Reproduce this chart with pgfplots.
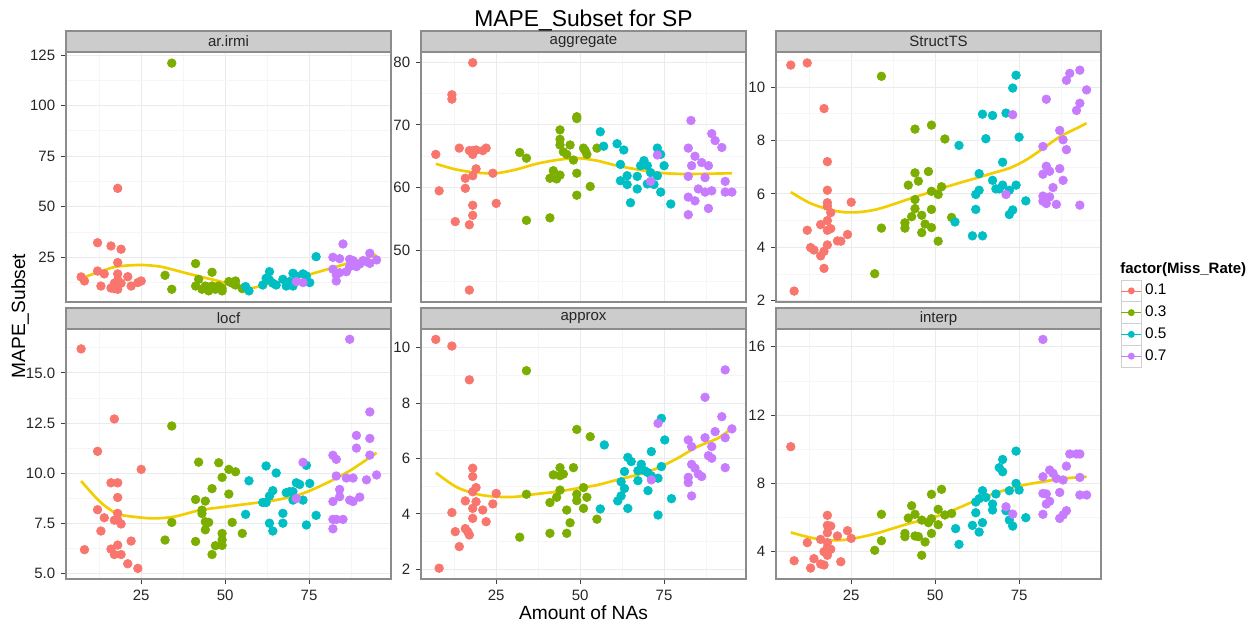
\documentclass[border=0pt]{standalone}
\usepackage{pgfplots}
\pgfplotsset{compat=1.18}
\usepackage{fontspec}
\setmainfont{Liberation Sans}
\definecolor{cA}{HTML}{F8766D}
\definecolor{cB}{HTML}{7CAE00}
\definecolor{cC}{HTML}{00BFC4}
\definecolor{cD}{HTML}{C77CFF}
\definecolor{smoothc}{HTML}{F2CD00}
\definecolor{stripfill}{HTML}{CCCCCC}
\definecolor{framec}{HTML}{8C8C8C}
\definecolor{gridmaj}{HTML}{EBEBEB}
\definecolor{gridmin}{HTML}{F6F6F6}
\definecolor{keyc}{HTML}{D0D0D0}
\pgfplotsset{
  facet/.style={
    scale only axis, width=195pt, height=150pt, anchor=south west,
    xmin=2.6, xmax=99.4,
    xtick={25,50,75}, minor xtick={12.5,37.5,62.5,87.5},
    grid=both,
    major grid style={draw=gridmaj, line width=0.6pt},
    minor grid style={draw=gridmin, line width=0.5pt},
    axis line style={draw=framec, line width=0.7pt},
    tick align=outside, tick pos=left,
    major tick length=3pt, minor tick length=0pt,
    major tick style={draw=black!75, line width=0.6pt},
    tick label style={font=\fontsize{9}{10}\selectfont, text=black!85},
  },
  toprow/.style={xticklabels={}, xtick style={draw=none}},
  botrow/.style={xticklabels={25,50,75}},
  pts/.style={only marks, mark=*, mark size=2.6pt, mark options={draw=none}},
  smoothline/.style={no marks, smoothc, line width=1.6pt, smooth},
}
\begin{document}
\begin{tikzpicture}
\useasboundingbox (0pt,0pt) rectangle (754.2pt,-375pt);
% ---------- strips, titles ----------
\begin{scope}[x=0.6pt,y=-0.6pt]
\foreach \xl/\lab in {66/ar.irmi,421/aggregate,776/StructTS}{
  \draw[fill=stripfill,draw=framec,line width=0.7pt] (\xl,31) rectangle ++(325,21);
  \node[font=\fontsize{9}{10}\selectfont,text=black!85] at (\xl+162.5,41.5) {\lab};
}
\foreach \xl/\lab in {66/locf,421/approx,776/interp}{
  \draw[fill=stripfill,draw=framec,line width=0.7pt] (\xl,308) rectangle ++(325,21);
  \node[font=\fontsize{9}{10}\selectfont,text=black!85] at (\xl+162.5,318.5) {\lab};
}
\node[anchor=base,font=\fontsize{13.7}{16}\selectfont] at (583.5,26) {MAPE\_Subset for SP};
\node[anchor=base,font=\fontsize{11.5}{13}\selectfont] at (583.5,619) {Amount of NAs};
\node[anchor=base,rotate=90,font=\fontsize{11.5}{13}\selectfont] at (25,316) {MAPE\_Subset};
\node[anchor=west,font=\bfseries\fontsize{9}{10}\selectfont,inner sep=0pt] at (1120,270) {factor(Miss\_Rate)};
\foreach \i in {0,1,2,3}{
  \draw[draw=keyc,fill=white,line width=0.6pt] (1121,280+21.75*\i) rectangle ++(20,21.75);
}
\end{scope}
% ---------- panel 1: ar.irmi ----------
\begin{axis}[facet,toprow,at={(39.6pt,-181.2pt)},
  ymin=2.9,ymax=126.5,ytick={25,50,75,100,125},minor ytick={12.5,37.5,62.5,87.5,112.5},
  yticklabels={25,50,75,100,125}]
\addplot[pts,cA] coordinates {(7.1,15.3) (8.1,13.3) (12.0,32.2) (12.0,18.2) (13.0,10.8) (14.0,16.8) (16.0,30.6) (16.0,9.8) (17.0,9.5) (17.0,12.2) (18.0,59.1) (18.0,22.4) (18.0,16.8) (18.0,13.8) (18.0,10.8) (18.0,9.2) (19.0,29.0) (19.0,12.2) (21.0,15.4) (22.0,10.8) (24.0,12.5) (25.0,13.3)};
\addplot[pts,cB] coordinates {(32.1,16.1) (34.1,121.0) (34.1,9.2) (41.2,21.9) (41.2,10.8) (42.1,14.1) (43.1,9.2) (44.1,10.8) (45.1,8.4) (46.1,17.6) (46.1,10.8) (47.1,9.2) (48.1,10.8) (49.1,8.4) (49.1,9.7) (51.1,13.0) (52.1,12.2) (53.1,13.3) (53.1,11.3) (55.1,9.5)};
\addplot[pts,cC] coordinates {(56.1,10.5) (57.1,8.4) (61.2,11.3) (62.2,14.6) (63.2,17.9) (63.2,13.8) (64.2,12.2) (65.2,11.3) (67.2,14.1) (68.2,10.8) (69.2,13.0) (70.2,17.1) (70.2,10.8) (71.2,15.8) (73.2,16.8) (74.2,15.8) (75.2,12.5) (77.1,25.3)};
\addplot[pts,cD] coordinates {(71.2,13.0) (73.2,12.5) (82.1,25.0) (82.1,19.1) (83.1,13.3) (83.1,16.3) (84.1,24.3) (84.1,17.4) (85.1,31.6) (86.1,17.9) (87.1,24.0) (87.1,20.4) (88.1,23.4) (89.1,20.4) (90.1,21.7) (91.1,23.4) (92.1,22.9) (93.1,27.0) (93.1,22.0) (95.1,23.7)};
\addplot[smoothline] coordinates {(7.1,14.6) (12.7,17.9) (17.7,20.4) (24.7,21.2) (30.7,20.4) (36.7,17.9) (42.6,15.4) (48.6,13.0) (53.6,10.2) (57.6,9.7) (62.6,11.7) (68.6,13.8) (74.6,16.3) (80.5,19.1) (86.5,22.0) (95.1,26.2)};
\end{axis}
% ---------- panel 2: aggregate ----------
\begin{axis}[facet,toprow,at={(252.6pt,-181.2pt)},
  ymin=41.8,ymax=81.6,ytick={50,60,70,80},minor ytick={45,55,65,75},
  yticklabels={50,60,70,80}]
\addplot[pts,cA] coordinates {(7.0,65.3) (8.0,59.5) (11.8,74.8) (11.8,74.1) (12.8,54.6) (14.0,66.3) (15.8,61.5) (15.8,59.9) (17.0,65.9) (17.0,54.1) (17.0,43.7) (18.0,79.9) (18.0,65.9) (18.0,65.3) (18.0,61.9) (18.0,57.2) (18.0,55.6) (19.0,63.0) (19.0,66.0) (21.0,65.9) (22.0,66.3) (24.0,62.3) (25.0,57.5)};
\addplot[pts,cB] coordinates {(32.0,65.6) (34.0,64.7) (34.0,54.8) (41.0,61.5) (41.0,55.2) (42.0,62.7) (43.0,61.4) (44.0,62.0) (44.0,69.2) (44.0,67.7) (44.0,66.8) (45.0,65.7) (46.0,65.3) (47.0,66.8) (48.0,64.4) (49.0,71.3) (49.0,71.0) (49.0,62.3) (49.0,58.8) (51.0,66.3) (51.5,65.9) (52.0,65.3) (53.0,60.2) (55.0,66.3)};
\addplot[pts,cC] coordinates {(56.0,68.9) (57.0,66.6) (61.0,67.0) (62.0,63.7) (62.0,61.1) (63.0,66.0) (64.0,61.9) (64.0,60.5) (65.0,57.6) (67.0,61.8) (67.0,59.8) (68.0,63.5) (69.0,64.3) (70.0,63.5) (70.0,60.6) (71.0,62.4) (72.0,60.5) (73.0,66.3) (73.0,61.9) (74.0,65.3) (74.0,59.3) (75.0,63.5) (77.0,57.4)};
\addplot[pts,cD] coordinates {(71.0,61.0) (73.0,65.2) (82.2,66.3) (82.2,61.8) (82.2,58.5) (82.2,55.7) (83.0,70.7) (83.2,63.5) (84.2,65.0) (84.2,57.9) (85.2,59.8) (86.2,64.0) (87.2,61.6) (87.2,59.3) (88.2,63.5) (88.2,56.7) (89.2,68.6) (89.2,59.5) (90.2,67.5) (92.2,66.4) (93.2,61.0) (93.2,59.3) (95.2,59.3)};
\addplot[smoothline] coordinates {(7.0,63.8) (13,62.9) (19,62.4) (25,62.3) (31,62.9) (37,63.8) (43,64.4) (49,64.7) (55,64.3) (61,63.5) (67,62.9) (73,62.4) (79,62.2) (86,62.2) (95.2,62.3)};
\end{axis}
% ---------- panel 3: StructTS ----------
\begin{axis}[facet,toprow,at={(465.6pt,-181.2pt)},
  ymin=1.95,ymax=11.32,ytick={2,4,6,8,10},minor ytick={3,5,7,9,11},
  yticklabels={2,4,6,8,10},
  legend cell align=left,
  legend style={at={(1.0615,0.088)},anchor=north west,draw=none,fill=none,
    inner sep=0pt,outer sep=0pt,row sep=0pt,column sep=2pt,
    font=\fontsize{9.2}{10}\selectfont,
    nodes={inner sep=0pt,minimum height=13.05pt}},
  legend image code/.code={\path (-6pt,0pt) -- (6pt,0pt); \fill[#1,draw=none] (0pt,0pt) circle (2.1pt);}]
\addplot[pts,cA] coordinates {(7.0,10.83) (8.0,2.36) (11.9,10.91) (11.9,4.64) (12.9,3.99) (13.9,3.90) (15.9,4.85) (15.9,3.68) (16.9,9.20) (16.9,3.85) (16.9,3.21) (17.9,7.21) (17.9,6.14) (17.9,5.67) (17.9,5.54) (17.9,5.00) (17.9,4.64) (17.9,4.09) (18.9,5.30) (18.9,4.70) (20.9,4.24) (21.9,4.23) (23.9,4.48) (25.0,5.69)};
\addlegendentry{0.1}
\addplot[pts,cB] coordinates {(32.0,3.01) (34.0,10.41) (34.0,4.72) (41.0,4.92) (41.0,4.72) (42.0,6.33) (43.0,5.15) (44.0,8.43) (44.0,6.79) (44.0,5.79) (44.0,5.45) (45.0,6.48) (46.0,5.20) (46.0,4.55) (47.0,4.87) (48.0,6.84) (48.9,8.58) (48.9,6.10) (48.9,5.42) (48.9,4.74) (50.9,5.98) (50.9,4.23) (51.9,6.27) (52.9,8.06) (54.9,5.12)};
\addlegendentry{0.3}
\addplot[pts,cC] coordinates {(55.9,4.95) (57.1,7.82) (61.1,4.43) (62.1,5.42) (62.1,5.98) (63.1,6.76) (63.1,6.14) (64.1,8.99) (64.1,4.43) (65.1,8.07) (67.1,8.94) (67.1,6.51) (68.1,6.19) (69.1,6.19) (70.1,7.19) (70.1,6.33) (71.1,9.03) (72.1,6.14) (72.1,5.23) (73.1,9.97) (73.1,5.40) (74.1,10.45) (74.1,6.33) (75.0,8.13) (77.0,5.74)};
\addlegendentry{0.5}
\addplot[pts,cD] coordinates {(71.1,5.98) (73.1,8.97) (82.1,7.78) (82.1,6.74) (82.1,5.92) (82.1,5.73) (83.1,9.55) (83.1,7.04) (83.1,5.64) (84.1,6.85) (84.1,5.89) (85.1,6.24) (86.1,5.61) (87.1,8.38) (87.1,6.95) (88.1,8.03) (88.1,6.51) (89.1,10.26) (89.1,7.66) (90.1,10.52) (92.1,9.13) (93.1,10.64) (93.1,9.40) (93.1,5.58) (95.1,9.90)};
\addlegendentry{0.7}
\addplot[smoothline,forget plot] coordinates {(7.0,6.07) (12.5,5.67) (17.5,5.45) (22.5,5.32) (27.5,5.32) (32.5,5.42) (37.5,5.61) (42.4,5.82) (47.4,6.02) (52.4,6.23) (57.4,6.42) (62.4,6.60) (67.4,6.79) (72.4,6.98) (77.3,7.29) (82.3,7.72) (87.3,8.16) (92.3,8.47) (95.1,8.65)};
\end{axis}
% ---------- panel 4: locf ----------
\begin{axis}[facet,botrow,at={(39.6pt,-347.4pt)},
  ymin=4.74,ymax=17.19,ytick={5,7.5,10,12.5,15},minor ytick={6.25,8.75,11.25,13.75,16.25},
  yticklabels={5.0,7.5,10.0,12.5,15.0}]
\addplot[pts,cA] coordinates {(7.1,16.2) (8.1,6.2) (12.0,11.1) (12.0,8.19) (13.0,7.13) (14.0,7.79) (16.0,9.53) (16.0,6.23) (17.0,12.71) (17.0,5.96) (17.0,7.67) (18.0,9.53) (18.0,8.80) (18.0,8.01) (18.0,7.67) (18.0,6.43) (19.0,7.48) (19.0,5.96) (21.0,5.5) (22.0,6.63) (24.0,5.27) (25.0,10.2)};
\addplot[pts,cB] coordinates {(32.1,6.68) (34.1,12.36) (34.1,7.56) (41.2,8.70) (41.2,6.61) (42.1,10.56) (43.1,8.17) (43.1,8.0) (44.1,8.62) (44.1,7.59) (44.1,7.19) (45.1,7.56) (46.1,9.24) (46.1,5.96) (47.1,6.40) (48.1,10.53) (49.1,9.80) (49.1,7.01) (49.1,6.69) (49.1,6.41) (51.1,10.2) (51.1,8.97) (52.1,7.56) (53.1,10.08) (55.1,7.01)};
\addplot[pts,cC] coordinates {(56.1,7.96) (57.1,9.63) (61.2,8.55) (62.2,10.37) (62.2,8.55) (63.2,8.87) (63.2,7.52) (64.2,9.14) (64.2,7.13) (65.2,10.02) (67.2,8.01) (67.2,7.52) (68.2,9.04) (69.2,9.09) (70.2,8.67) (70.2,9.09) (71.2,9.53) (72.2,9.45) (73.2,8.67) (74.2,10.40) (74.2,7.43) (75.2,9.50) (77.1,7.91)};
\addplot[pts,cD] coordinates {(73.2,10.55) (71.2,8.75) (82.1,10.90) (83.1,10.70) (82.1,8.60) (82.1,7.71) (82.1,7.24) (83.1,9.87) (83.1,7.71) (84.1,9.20) (84.1,8.84) (85.1,7.71) (86.1,9.77) (87.1,16.68) (87.1,8.67) (88.1,9.77) (88.1,8.60) (89.1,11.89) (89.1,11.26) (90.1,8.82) (92.1,9.68) (93.1,13.06) (93.1,11.74) (93.1,10.91) (95.1,9.92)};
\addplot[smoothline] coordinates {(7.1,9.62) (12.7,8.59) (17.7,8.0) (22.7,7.84) (28.7,7.76) (34.7,7.84) (42.6,8.17) (50.1,8.34) (57.6,8.5) (65.1,8.67) (72.6,8.97) (80.0,9.50) (87.5,10.17) (95.1,11.03)};
\end{axis}
% ---------- panel 5: approx ----------
\begin{axis}[facet,botrow,at={(252.6pt,-347.4pt)},
  ymin=1.65,ymax=10.675,ytick={2,4,6,8,10},minor ytick={3,5,7,9},
  yticklabels={2,4,6,8,10}]
\addplot[pts,cA] coordinates {(7.0,10.30) (8.0,2.04) (11.8,10.06) (11.8,4.05) (12.8,3.36) (14.0,2.82) (15.8,4.47) (15.8,3.47) (16.5,3.36) (17.0,8.84) (17.0,3.24) (18.0,5.65) (18.0,5.35) (18.0,4.80) (18.0,4.20) (18.0,3.84) (19.0,4.95) (19.0,4.44) (21.0,4.14) (22.0,3.72) (24.0,4.36) (25.0,4.74)};
\addplot[pts,cB] coordinates {(32.0,3.16) (34.0,9.17) (34.0,4.71) (41.0,4.41) (41.0,3.30) (42.0,5.41) (43.0,4.60) (44.0,5.67) (44.0,5.38) (44.0,4.86) (45.0,5.44) (46.0,4.14) (46.0,3.30) (47.0,3.68) (48.0,5.67) (49.0,7.05) (49.0,4.71) (49.0,4.48) (51.0,4.95) (51.0,4.20) (52.0,4.60) (53.0,6.79) (55.0,3.81)};
\addplot[pts,cC] coordinates {(56.0,4.18) (57.2,6.49) (61.2,4.47) (62.2,5.16) (62.2,4.65) (63.2,5.53) (63.2,4.92) (64.2,6.04) (64.2,4.20) (65.2,5.89) (67.2,5.56) (67.2,5.20) (68.2,5.79) (69.2,5.56) (70.2,5.49) (70.2,4.84) (71.2,6.25) (71.2,5.37) (73.2,5.29) (73.2,3.96) (74.2,7.45) (74.2,5.71) (75.2,6.67) (77.2,4.55)};
\addplot[pts,cD] coordinates {(71.2,5.23) (73.2,7.27) (82.2,6.67) (82.2,5.32) (82.2,5.13) (83.2,6.43) (83.2,4.65) (83.2,5.79) (84.2,5.65) (85.2,5.44) (86.2,5.35) (87.2,8.21) (87.2,6.75) (88.2,6.10) (89.2,6.01) (89.2,6.43) (90.2,6.97) (92.2,7.51) (93.2,9.20) (93.2,6.75) (93.2,5.67) (95.2,7.07)};
\addplot[smoothline] coordinates {(7.0,5.49) (13.0,4.98) (19.0,4.72) (25.0,4.62) (31.0,4.62) (37.0,4.72) (43.0,4.80) (49.0,4.92) (55.0,5.04) (61.0,5.23) (67.0,5.41) (73.0,5.65) (79.0,6.01) (85.0,6.43) (91.0,6.73) (95.2,7.09)};
\end{axis}
% ---------- panel 6: interp ----------
\begin{axis}[facet,botrow,at={(465.6pt,-347.4pt)},
  ymin=2.40,ymax=17.04,ytick={4,8,12,16},minor ytick={6,10,14},
  yticklabels={4,8,12,16}]
\addplot[pts,cA] coordinates {(7.0,10.15) (8.0,3.47) (11.9,4.53) (12.9,3.04) (13.9,3.59) (15.9,4.72) (15.9,3.28) (16.9,3.22) (16.9,4.0) (17.9,6.13) (17.9,5.54) (17.9,5.11) (17.9,4.53) (17.9,4.25) (17.9,3.79) (18.9,5.50) (18.9,4.14) (20.9,4.92) (21.9,3.41) (23.9,5.23) (25.0,4.78)};
\addplot[pts,cB] coordinates {(32.0,4.08) (34.0,6.19) (34.0,4.64) (41.0,5.07) (41.0,4.88) (42.0,5.97) (43.0,6.69) (44.0,6.19) (44.0,4.92) (45.0,4.88) (46.0,5.85) (46.0,3.79) (47.0,4.57) (48.0,5.70) (48.9,7.36) (48.9,5.93) (48.9,5.07) (50.9,6.48) (50.9,5.58) (51.9,7.65) (52.9,6.15) (54.9,6.24)};
\addplot[pts,cC] coordinates {(56.1,5.35) (57.1,4.43) (61.1,5.54) (62.1,6.91) (62.1,6.28) (63.1,7.10) (63.1,5.15) (64.1,7.57) (64.1,5.70) (65.1,7.18) (67.1,6.79) (67.1,6.44) (68.1,7.38) (69.1,8.92) (70.1,9.40) (70.1,8.68) (71.1,6.40) (72.1,7.57) (72.1,5.85) (73.1,5.50) (74.1,9.89) (74.1,8.00) (75.0,7.61) (77.0,5.99)};
\addplot[pts,cD] coordinates {(71.1,6.63) (73.1,6.20) (82.1,16.43) (82.1,8.39) (82.1,7.41) (82.1,6.19) (83.1,7.38) (83.1,6.79) (84.1,8.78) (84.1,6.95) (85.1,8.59) (86.1,8.29) (87.1,7.47) (87.1,5.95) (88.1,8.20) (88.1,6.15) (89.1,9.01) (89.1,6.40) (90.1,9.72) (92.1,9.72) (93.1,9.72) (93.1,8.35) (93.1,7.32) (95.1,7.32)};
\addplot[smoothline] coordinates {(7.0,5.13) (12.5,4.84) (17.5,4.68) (22.5,4.68) (27.5,4.84) (32.5,5.07) (37.5,5.37) (42.4,5.66) (47.4,5.91) (52.4,6.19) (57.4,6.60) (62.4,7.02) (67.4,7.38) (72.4,7.71) (77.3,7.94) (82.3,8.10) (87.3,8.27) (92.3,8.35) (95.1,8.39)};
\end{axis}
\end{tikzpicture}
\end{document}
